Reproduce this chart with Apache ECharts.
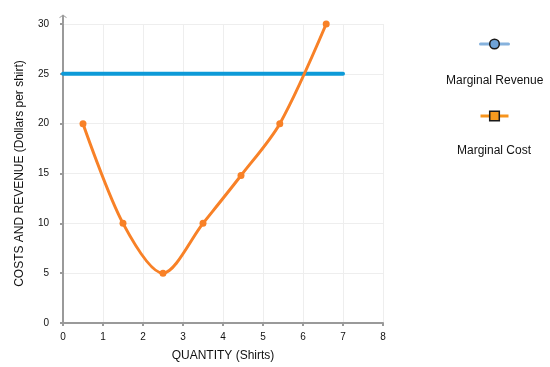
<!DOCTYPE html>
<html>
<head>
<meta charset="utf-8">
<script src="https://cdn.jsdelivr.net/npm/echarts@6/dist/echarts.min.js"></script>
<style>html,body{margin:0;padding:0;background:#fff}#c{width:550px;height:367px}</style>
</head>
<body>
<div id="c"></div>
<script>
var mrName = 'Marginal Revenue';
var mcName = 'Marginal Cost';
var mrData = [[0, 25], [7, 25]];
var mcX = [0.5, 1.5, 2.5, 3.5, 4.45, 5.42, 6.58];
var mcY = [20, 10, 5, 10, 14.8, 20, 30];
var xTicks = [0, 1, 2, 3, 4, 5, 6, 7, 8];
var yTicks = [0, 5, 10, 15, 20, 25, 30];
var xTitle = 'QUANTITY (Shirts)';
var yTitle = 'COSTS AND REVENUE (Dollars per shirt)';

var font = 'Liberation Sans, Arial, Helvetica, sans-serif';
var chart = echarts.init(document.getElementById('c'));
var mcData = mcX.map(function (x, i) { return [x, mcY[i]]; });
var arrowPath = 'path://M0,4 L5,0 L10,4 L10,5.6 L5,1.6 L0,5.6 Z M3.6,1 L6.4,1 L6.4,13 L3.6,13 Z';

chart.setOption({
  animation: false,
  textStyle: { fontFamily: font },
  grid: { left: 63, right: 167, top: 24, bottom: 43, containLabel: false },
  xAxis: {
    type: 'value', min: xTicks[0], max: xTicks[xTicks.length - 1], interval: 1,
    name: xTitle, nameLocation: 'middle', nameGap: 27,
    nameTextStyle: { fontSize: 12, color: '#111', fontFamily: font },
    axisLine: { show: true, onZero: false, lineStyle: { color: '#9a9a9a', width: 2 } },
    axisTick: { show: true, length: 3, lineStyle: { color: '#9a9a9a', width: 2 } },
    axisLabel: { fontSize: 10, color: '#111', margin: 9, fontFamily: font },
    splitLine: { show: true, lineStyle: { color: '#eeeeee', width: 1 } }
  },
  yAxis: {
    type: 'value', min: yTicks[0], max: yTicks[yTicks.length - 1], interval: 5,
    name: yTitle, nameLocation: 'middle', nameGap: 37, nameRotate: 90,
    nameTextStyle: { fontSize: 12, color: '#111', fontFamily: font },
    axisLine: { show: true, onZero: false, lineStyle: { color: '#9a9a9a', width: 2 },
      symbol: ['none', arrowPath], symbolSize: [7, 10], symbolOffset: [0, 5] },
    axisTick: { show: true, length: 3, lineStyle: { color: '#9a9a9a', width: 2 } },
    axisLabel: { fontSize: 10, color: '#111', margin: 14, fontFamily: font },
    splitLine: { show: true, lineStyle: { color: '#eeeeee', width: 1 } }
  },
  legend: [
    {
      left: 474, top: 33, itemWidth: 28, itemHeight: 12, itemGap: 0,
      formatter: function () { return ''; },
      selectedMode: false,
      data: [{ name: mrName,
        itemStyle: { color: '#6fa3d8', borderColor: '#1a1a1a', borderWidth: 1.5 },
        lineStyle: { color: '#86b2dd', width: 3 } }]
    },
    {
      left: 474, top: 105, itemWidth: 28, itemHeight: 12, itemGap: 0,
      formatter: function () { return ''; },
      selectedMode: false,
      data: [{ name: mcName,
        itemStyle: { color: '#f79a1e', borderColor: '#1a1a1a', borderWidth: 1.5 },
        lineStyle: { color: '#f7941d', width: 3 } }]
    }
  ],
  graphic: [
    { type: 'text', left: 446, top: 75, style: { text: mrName, fontSize: 12, fill: '#111', fontFamily: font } },
    { type: 'text', left: 457, top: 145, style: { text: mcName, fontSize: 12, fill: '#111', fontFamily: font } }
  ],
  series: [
    {
      name: mrName, type: 'line', data: mrData, showSymbol: false, symbol: 'circle',
      lineStyle: { color: '#0d9ad8', width: 4, cap: 'round' }, itemStyle: { color: '#0d9ad8' }, z: 2
    },
    {
      name: mcName, type: 'line', data: [], symbol: 'rect', silent: true
    },
    {
      name: mcName, type: 'line', data: mcData, smooth: 0.3, symbol: 'circle', symbolSize: 7,
      lineStyle: { color: '#f88127', width: 3 }, itemStyle: { color: '#f88127' }, z: 3
    }
  ]
});
</script>
</body>
</html>
